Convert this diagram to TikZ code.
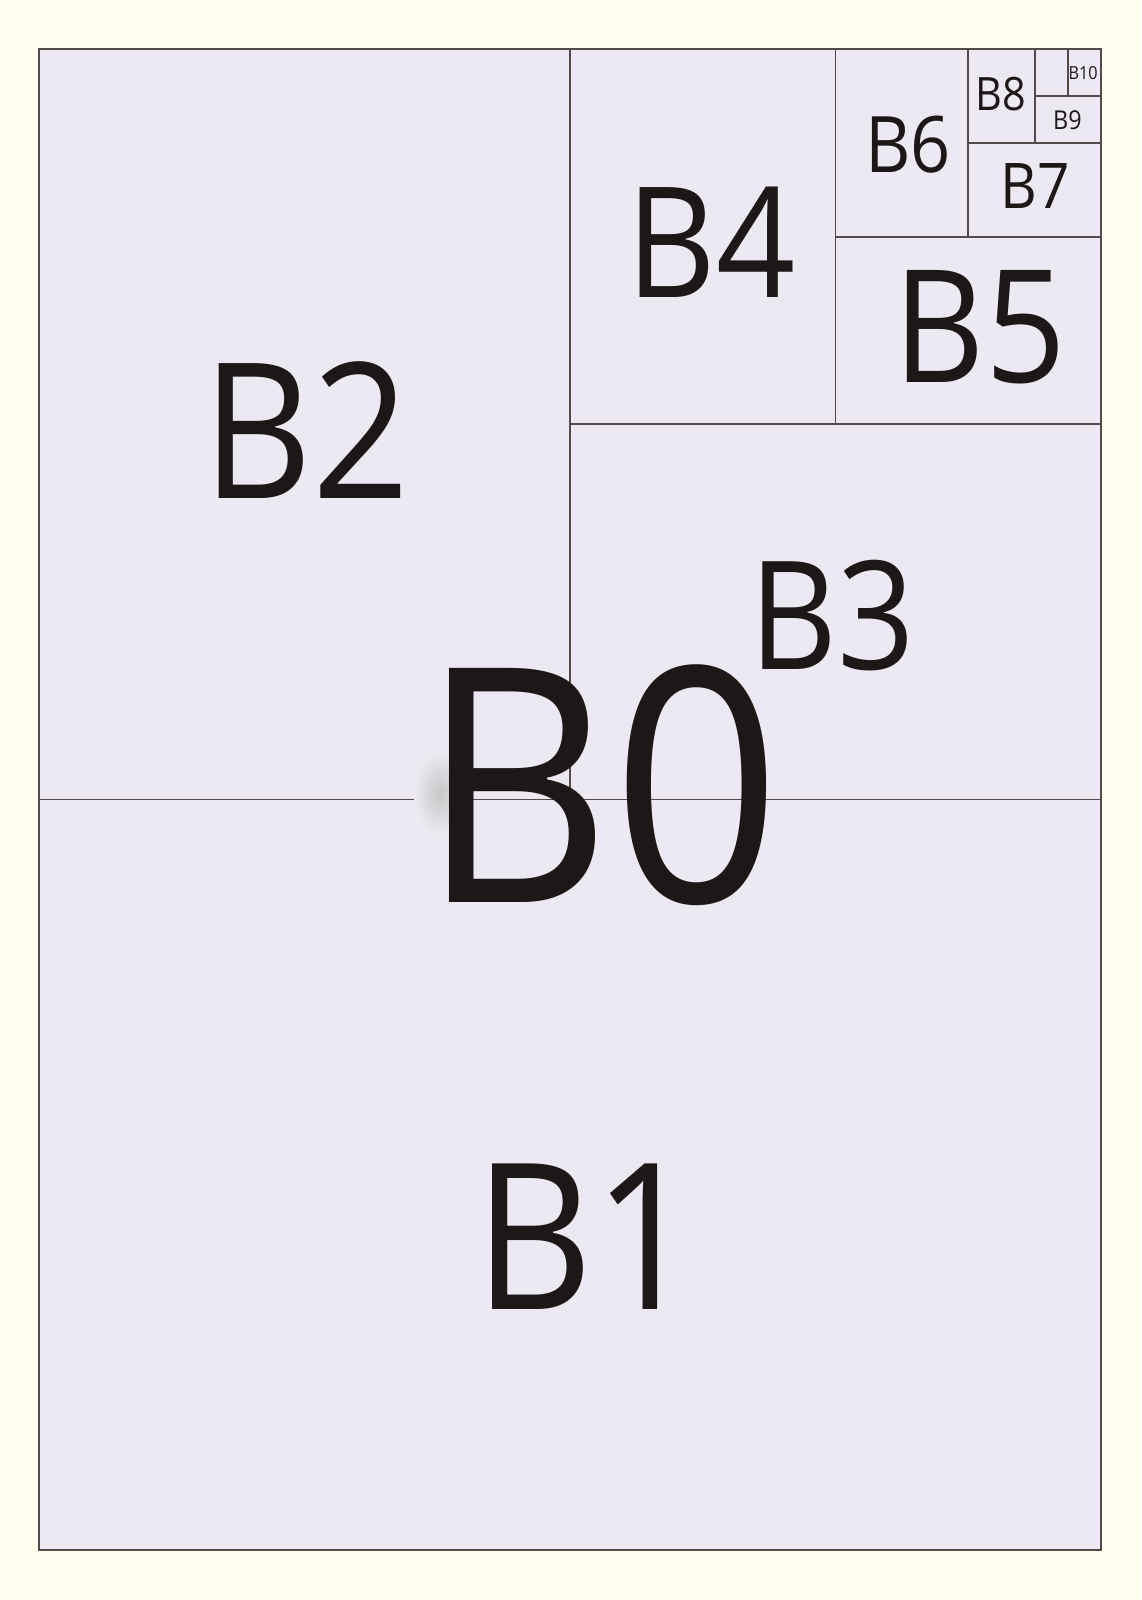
\documentclass[tikz,border=0pt]{standalone}
\usepackage{fontspec}
\setmainfont{Open Sans}[FakeStretch=0.9]
\definecolor{cream}{HTML}{FFFDEE}
\definecolor{paper}{HTML}{EDE9F2}
\definecolor{rule}{HTML}{544A4A}
\definecolor{ink}{HTML}{1C1818}
\begin{document}
\begin{tikzpicture}[x=1pt, y=-1pt,
  cut/.style={draw=rule, line width=1.8pt},
  label/.style={anchor=base, inner sep=0, text=ink, font=\fontsize{#1}{#1}\selectfont}]

% Background
\fill[cream] (0,0) rectangle (1141,1600);
\useasboundingbox (0,0) rectangle (1141,1600);

% Sheet
\fill[paper] (39,49) rectangle (1101,1550);
\draw[cut] (39,799.5) -- (1101,799.5);
\draw[cut] (570,49) -- (570,799.5);
\draw[cut] (570,424.25) -- (1101,424.25);
\draw[cut] (835.5,49) -- (835.5,424.25);
\draw[cut] (835.5,236.6) -- (1101,236.6);
\draw[cut] (968.25,49) -- (968.25,236.6);
\draw[cut] (968.25,142.8) -- (1101,142.8);
\draw[cut] (1034.6,49) -- (1034.6,142.8);
\draw[cut] (1034.6,95.9) -- (1101,95.9);
\draw[cut] (1067.8,49) -- (1067.8,95.9);
\draw[draw=rule, line width=2.4pt] (39,49) rectangle (1101,1550);

% Smudge
\shade[inner color=black!22, outer color=paper] (440,793) ellipse [x radius=26, y radius=42];

% Labels
\node[label=204] (b1) at (586,1309) {B1};
\node[label=189] (b2) at (306,498) {B2};
\node[label=151] (b3) at (832,669) {B3};
\node[label=154] (b4) at (711,297) {B4};
\node[label=157] (b5) at (980,382) {B5};
\node[label=78] (b6) at (908,172) {B6};
\node[label=63] (b7) at (1035,208) {B7};
\node[label=46] (b8) at (1001,111) {B8};
\node[label=26] (b9) at (1067.5,129) {B9};
\node[label=18] (b10) at (1083,80) {B10};
\node[label=328] (b0) at (601,902) {B0};

\end{tikzpicture}
\end{document}
